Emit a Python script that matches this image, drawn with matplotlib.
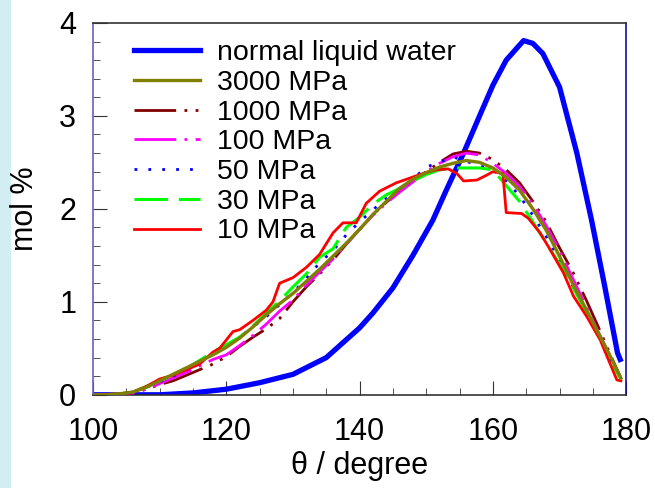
import matplotlib.pyplot as plt
from matplotlib.patches import Rectangle
from matplotlib.ticker import MultipleLocator

plt.rcParams['font.family'] = ['Liberation Sans', 'DejaVu Sans']

# normal liquid water
theta_w = [100, 110, 115, 120, 125, 130, 135, 140, 142, 145, 148, 151, 153, 155.6,
           158, 160, 162, 164.6, 166, 167.5, 170, 172.6, 174.8, 176.8, 178.7, 179.1]
water = [0.0, 0.0, 0.02, 0.06, 0.13, 0.22, 0.40, 0.72, 0.88, 1.15, 1.50, 1.88, 2.20, 2.60,
         3.00, 3.33, 3.60, 3.81, 3.78, 3.67, 3.31, 2.60, 1.88, 1.16, 0.45, 0.38]

# pressurised water, common grid
theta = [100, 102, 104, 106, 108, 110, 112, 114, 116, 118, 120, 122, 124, 126, 128, 130,
         132, 134, 136, 138, 140, 142, 144, 146, 148, 150, 152, 154, 156, 158, 160, 162,
         164, 166, 168, 170, 172, 174, 176, 178, 179.2]
p3000 = [0.00, 0.00, 0.01, 0.03, 0.08, 0.15, 0.22, 0.29, 0.36, 0.43, 0.51, 0.61, 0.73, 0.86,
         0.98, 1.09, 1.22, 1.35, 1.49, 1.63, 1.78, 1.94, 2.08, 2.22, 2.32, 2.39, 2.45, 2.49,
         2.52, 2.50, 2.44, 2.34, 2.20, 2.00, 1.77, 1.49, 1.19, 0.92, 0.64, 0.36, 0.18]
p1000 = [0.00, 0.00, 0.00, 0.02, 0.06, 0.11, 0.15, 0.21, 0.27, 0.33, 0.41, 0.52, 0.62, 0.71,
         0.82, 1.00, 1.16, 1.30, 1.45, 1.62, 1.78, 1.94, 2.07, 2.19, 2.30, 2.40, 2.50, 2.59,
         2.62, 2.60, 2.53, 2.42, 2.28, 2.08, 1.86, 1.58, 1.32, 1.02, 0.70, 0.37, 0.18]
p100 = [0.00, 0.00, 0.01, 0.02, 0.06, 0.12, 0.18, 0.24, 0.31, 0.38, 0.43, 0.53, 0.64, 0.76,
        0.90, 1.02, 1.18, 1.32, 1.46, 1.62, 1.78, 1.93, 2.06, 2.18, 2.29, 2.40, 2.49, 2.56,
        2.60, 2.58, 2.49, 2.38, 2.24, 2.05, 1.82, 1.55, 1.25, 0.95, 0.65, 0.36, 0.18]
p50 = [0.00, 0.00, 0.01, 0.03, 0.08, 0.14, 0.20, 0.27, 0.35, 0.44, 0.52, 0.62, 0.73, 0.84,
       0.97, 1.10, 1.25, 1.42, 1.55, 1.72, 1.86, 1.99, 2.11, 2.21, 2.32, 2.45, 2.50, 2.56,
       2.51, 2.47, 2.42, 2.30, 2.14, 1.93, 1.70, 1.45, 1.17, 0.90, 0.62, 0.33, 0.18]
p30 = [0.00, 0.00, 0.01, 0.03, 0.09, 0.15, 0.21, 0.28, 0.37, 0.46, 0.54, 0.62, 0.74, 0.88,
       1.01, 1.16, 1.30, 1.48, 1.57, 1.80, 1.91, 2.05, 2.15, 2.22, 2.30, 2.37, 2.42, 2.44,
       2.44, 2.44, 2.42, 2.25, 2.08, 1.86, 1.63, 1.41, 1.16, 0.89, 0.63, 0.32, 0.17]

# 10 MPa has its own grid (step near 162)
theta_10 = [100, 104, 106, 108, 110, 112, 114, 116, 118, 119, 121, 122, 124, 126, 127, 128,
            130, 132, 134, 136, 137.5, 139.5, 141, 143, 145.5, 147.5, 149.5, 151.5, 153.3,
            154.6, 155.6, 157.6, 159, 160, 161.5, 162, 164.3, 165.3, 167.1, 168.6, 170.6,
            172.1, 174.1, 176.1, 178.6, 179.2]
p10 = [0.00, 0.01, 0.03, 0.09, 0.17, 0.21, 0.27, 0.33, 0.46, 0.50, 0.68, 0.70, 0.80, 0.91,
       1.00, 1.20, 1.26, 1.37, 1.51, 1.74, 1.85, 1.85, 2.06, 2.19, 2.28, 2.33, 2.38, 2.42,
       2.43, 2.38, 2.30, 2.31, 2.36, 2.40, 2.38, 1.96, 1.95, 1.90, 1.74, 1.56, 1.31, 1.06,
       0.84, 0.59, 0.16, 0.15]

fig = plt.figure(figsize=(6.55, 4.88), dpi=100)
fig.patches.append(Rectangle((0, 0), 0.016, 1, transform=fig.transFigure,
                             color='#d3eef3', zorder=-1))
ax = fig.add_axes([0.142, 0.191, 0.814, 0.762])

ax.plot(theta_w, water, color='#0000ff', lw=3.8, label='normal liquid water', zorder=2)
ax.plot(theta, p1000, color='#800000', lw=2, dashes=(15, 3, 1, 3, 1, 3), label='1000 MPa', zorder=3)
ax.plot(theta, p100, color='#ff00ff', lw=2, dashes=(15, 3, 1, 3), label='100 MPa', zorder=3)
ax.plot(theta, p50, color='#0000ff', lw=2, dashes=(1, 4), label='50 MPa', zorder=3)
ax.plot(theta, p30, color='#00ff00', lw=2.2, dashes=(11, 3.5), label='30 MPa', zorder=3)
ax.plot(theta_10, p10, color='#ff0000', lw=2, label='10 MPa', zorder=3)
ax.plot(theta, p3000, color='#808000', lw=2.4, label='3000 MPa', zorder=4)

h, l = ax.get_legend_handles_labels()
order = [0, 6, 1, 2, 3, 4, 5]
ax.legend([h[i] for i in order], [l[i] for i in order], loc='upper left',
          bbox_to_anchor=(0.04, 1.007), frameon=False, fontsize=20.5,
          handlelength=2.3, handletextpad=0.6, labelspacing=0.13, borderpad=0.2)

ax.set_xlim(100, 180)
ax.set_ylim(0, 4)
ax.xaxis.set_major_locator(MultipleLocator(20))
ax.xaxis.set_minor_locator(MultipleLocator(5))
ax.yaxis.set_major_locator(MultipleLocator(1))
ax.yaxis.set_minor_locator(MultipleLocator(0.2))
ax.tick_params(which='both', direction='in', labelsize=22, color='#333333')
ax.tick_params(axis='x', which='major', length=10, pad=16)
ax.tick_params(axis='x', which='minor', length=5)
ax.tick_params(axis='y', which='major', length=10, pad=12)
ax.tick_params(axis='y', which='minor', length=5)

ax.spines['left'].set_color('#6464c0')
ax.spines['right'].set_color('#1010a0')
ax.spines['top'].set_color('#333333')
ax.spines['bottom'].set_color('#333333')
for s in ax.spines.values():
    s.set_linewidth(1.2)

ax.set_xlabel('θ / degree', fontsize=22, labelpad=3)
ax.set_ylabel('mol %', fontsize=22, labelpad=14)

fig.savefig('out.png', dpi=100)
